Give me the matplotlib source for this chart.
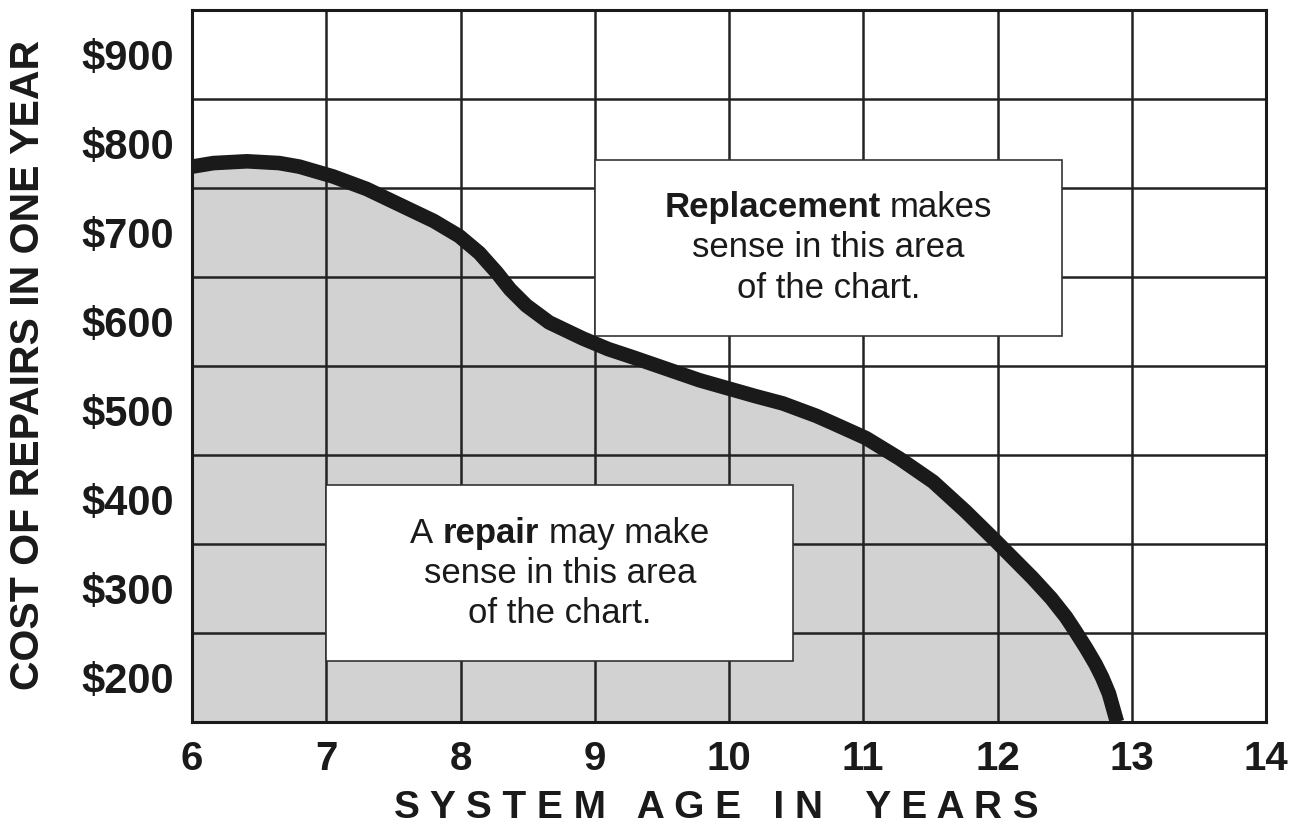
import matplotlib
matplotlib.use("Agg")
from matplotlib import pyplot as plt
from matplotlib.patches import Rectangle
from matplotlib.transforms import ScaledTranslation

plt.rcParams["font.family"] = ["Liberation Sans", "DejaVu Sans"]

# repair cost curve (age in years, dollars per year)
age = [6.00, 6.16, 6.41, 6.65, 6.80, 7.05, 7.30, 7.55, 7.80, 7.99, 8.14,
       8.27, 8.37, 8.49, 8.66, 8.91, 9.10, 9.28, 9.53, 9.78, 9.99, 10.20,
       10.40, 10.65, 10.77, 11.02, 11.27, 11.52, 11.76, 11.99, 12.26, 12.40,
       12.51, 12.58, 12.66, 12.73, 12.78, 12.83, 12.89]
cost = [774, 778, 780, 778, 774, 763, 749, 731, 713, 696, 677,
        655, 636, 618, 599, 581, 569, 560, 547, 534, 525, 516,
        508, 494, 486, 469, 446, 420, 387, 353, 312, 289,
        268, 252, 233, 215, 200, 182, 150]

x_ticks = [6, 7, 8, 9, 10, 11, 12, 13, 14]
y_ticks = [200, 300, 400, 500, 600, 700, 800, 900]
y_labels = ["$200", "$300", "$400", "$500", "$600", "$700", "$800", "$900"]
y_grid = [250, 350, 450, 550, 650, 750, 850]

replace_lines = [[("Replacement", "bold"), ("makes", "normal")],
                 [("sense in this area", "normal")],
                 [("of the chart.", "normal")]]
repair_lines = [[("A", "normal"), ("repair", "bold"), ("may make", "normal")],
                [("sense in this area", "normal")],
                [("of the chart.", "normal")]]

ink = "#1a1a1a"

fig = plt.figure(figsize=(13.07, 8.30), dpi=100)
ax = fig.add_axes([192 / 1307, 1 - 722 / 830, 1074 / 1307, 712 / 830])

ax.fill_between(age, cost, 150, color="#d2d2d2", linewidth=0, zorder=1)
ax.plot(age, cost, color=ink, linewidth=10.5, solid_capstyle="butt",
        solid_joinstyle="round", zorder=5)

ax.set_xlim(6, 14)
ax.set_ylim(150, 950)
ax.set_xticks(x_ticks)
ax.set_xticklabels([str(t) for t in x_ticks])
ax.set_yticks(y_ticks)
ax.set_yticklabels(y_labels)
ax.set_yticks(y_grid, minor=True)
ax.tick_params(which="both", length=0)
ax.tick_params(axis="x", labelsize=29, pad=13)
ax.tick_params(axis="y", labelsize=30, pad=13)
for lab in ax.get_xticklabels() + ax.get_yticklabels():
    lab.set_fontweight("bold")
    lab.set_color(ink)

ax.xaxis.grid(True, which="major", color="#222222", linewidth=1.8)
ax.yaxis.grid(True, which="minor", color="#222222", linewidth=1.8)
for sp in ax.spines.values():
    sp.set_linewidth(2.2)
    sp.set_color(ink)
    sp.set_zorder(6)

# the two note boxes
ax.add_patch(Rectangle((9.0, 584), 3.48, 198, facecolor="white",
                       edgecolor="#333333", linewidth=1.2, zorder=3))
ax.add_patch(Rectangle((7.0, 218), 3.48, 198, facecolor="white",
                       edgecolor="#333333", linewidth=1.2, zorder=3))

renderer = fig.canvas.get_renderer()


def text_width(s, weight, size):
    t = ax.text(0, 0, s, fontsize=size, fontweight=weight)
    w = t.get_window_extent(renderer).width
    t.remove()
    return w


def note(cx, cy, lines, size=25):
    space = text_width("x x", "normal", size) - text_width("xx", "normal", size)
    offsets = [22, -7, -36]  # baseline offsets in points from box centre
    for parts, dy in zip(lines, offsets):
        widths = [text_width(s, w, size) for s, w in parts]
        total = sum(widths) + space * (len(parts) - 1)
        pos = -total / 2
        for (s, w), wd in zip(parts, widths):
            tr = ax.transData + ScaledTranslation(pos / fig.dpi, dy / 72,
                                                  fig.dpi_scale_trans)
            ax.text(cx, cy, s, fontsize=size, fontweight=w, color=ink,
                    ha="left", va="baseline", transform=tr, zorder=4)
            pos += wd + space


note(10.74, 683, replace_lines)
note(8.74, 317, repair_lines)

fig.text(716 / 1307, 1 - 808 / 830, "S Y S T E M   A G E   I N    Y E A R S",
         fontsize=28, fontweight="bold", color=ink, ha="center", va="center")
fig.text(28 / 1307, 1 - 365 / 830, "COST OF REPAIRS IN ONE YEAR",
         fontsize=29.5, fontweight="bold", color=ink, rotation=90,
         ha="center", va="center")

plt.savefig("out.png", dpi=100)
